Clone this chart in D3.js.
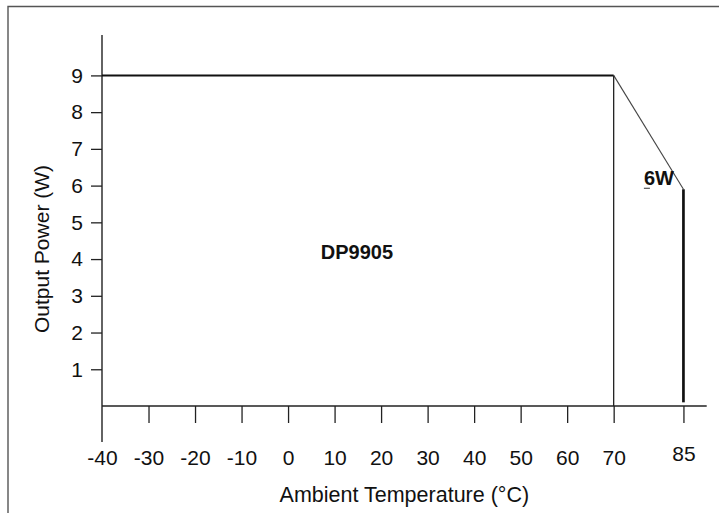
<!DOCTYPE html>
<html>
<head>
<meta charset="utf-8">
<script src="https://cdn.jsdelivr.net/npm/d3@7"></script>
<style>
  body { margin: 0; background: #fff; }
  svg { display: block; font-family: "Liberation Sans", Arial, sans-serif; }
</style>
</head>
<body>
<div class="container"></div>
<script>
// derating curve of the DP9905
const curveTemp = [-40, 70, 85];
const curvePower = [9, 9, 5.9];
const xTicks = [-40, -30, -20, -10, 0, 10, 20, 30, 40, 50, 60, 70, 85];
const yTicks = [1, 2, 3, 4, 5, 6, 7, 8, 9];
const modelName = "DP9905";
const endLabel = "6W";

const width = 719, height = 513;
const x = d3.scaleLinear().domain([-40, 90]).range([102, 706.7]);
const y = d3.scaleLinear().domain([0, 10.1]).range([406, 35]);

let svg = d3.select(".container").append("svg")
  .attr("width", width)
  .attr("height", height);

// frame (only top and left edge are inside the picture)
svg.append("path")
  .attr("d", "M8,513V6.5H719")
  .attr("fill", "none")
  .attr("stroke", "#555")
  .attr("stroke-width", 1.4);

// axes
let xAxis = svg.append("g")
  .attr("transform", `translate(0,${y(0)})`)
  .call(d3.axisBottom(x).tickValues(xTicks).tickSize(17).tickPadding(27)
    .tickFormat(d => String(d)));
let yAxis = svg.append("g")
  .attr("transform", `translate(${x(-40)},0)`)
  .call(d3.axisLeft(y).tickValues(yTicks).tickSize(11).tickPadding(8)
    .tickFormat(d => String(d)));

[xAxis, yAxis].forEach(a => {
  a.select(".domain").remove();
  a.selectAll("line").attr("stroke", "#222").attr("stroke-width", 1.3);
  a.selectAll("text")
    .attr("fill", "#111")
    .style("font-size", "21px")
    .style("font-family", '"Liberation Sans", Arial, sans-serif');
});
xAxis.selectAll(".tick").filter(d => d === -40).select("line").remove();
xAxis.selectAll(".tick").filter(d => d === 85).select("text").attr("y", 40);

// axis lines
svg.append("line")
  .attr("x1", x(-40)).attr("x2", x(-40))
  .attr("y1", y.range()[1]).attr("y2", y(0) + 36)
  .attr("stroke", "#222").attr("stroke-width", 1.4);
svg.append("line")
  .attr("x1", x(-40)).attr("x2", x.range()[1])
  .attr("y1", y(0)).attr("y2", y(0))
  .attr("stroke", "#222").attr("stroke-width", 1.4);

// curve: flat part then derating slope
const line = d3.line().x(d => x(d[0])).y(d => y(d[1]));
const pts = curveTemp.map((t, i) => [t, curvePower[i]]);
svg.append("path")
  .attr("d", line(pts.slice(0, 2)))
  .attr("fill", "none").attr("stroke", "#111").attr("stroke-width", 2);
svg.append("path")
  .attr("d", line(pts.slice(1, 3)))
  .attr("fill", "none").attr("stroke", "#444").attr("stroke-width", 1.1);

// vertical drops at 70 and 85
svg.append("path")
  .attr("d", line([[curveTemp[1], curvePower[1]], [curveTemp[1], 0]]))
  .attr("stroke", "#222").attr("stroke-width", 1.3);
svg.append("path")
  .attr("d", line([[curveTemp[2], curvePower[2]], [curveTemp[2], 0.1]]))
  .attr("stroke", "#111").attr("stroke-width", 2.7);

// labels
svg.append("text")
  .attr("x", x(14.8)).attr("y", y(4.2) + 7.5)
  .attr("text-anchor", "middle")
  .style("font-size", "20px").style("font-weight", "bold")
  .attr("fill", "#111")
  .text(modelName);

svg.append("text")
  .attr("x", x(76.5)).attr("y", y(6.2) + 7)
  .style("font-size", "20px").style("font-weight", "bold")
  .attr("fill", "#111")
  .text(endLabel);
svg.append("line")
  .attr("x1", x(76.5)).attr("x2", x(76.5) + 6)
  .attr("y1", y(6.2) + 10).attr("y2", y(6.2) + 10)
  .attr("stroke", "#333").attr("stroke-width", 1);

// axis titles
svg.append("text")
  .attr("x", x(25)).attr("y", 502)
  .attr("text-anchor", "middle")
  .style("font-size", "21.5px")
  .attr("fill", "#111")
  .text("Ambient Temperature (°C)");

svg.append("text")
  .attr("transform", "translate(49,249) rotate(-90)")
  .attr("text-anchor", "middle")
  .style("font-size", "21px")
  .attr("fill", "#111")
  .text("Output Power (W)");
</script>
</body>
</html>
